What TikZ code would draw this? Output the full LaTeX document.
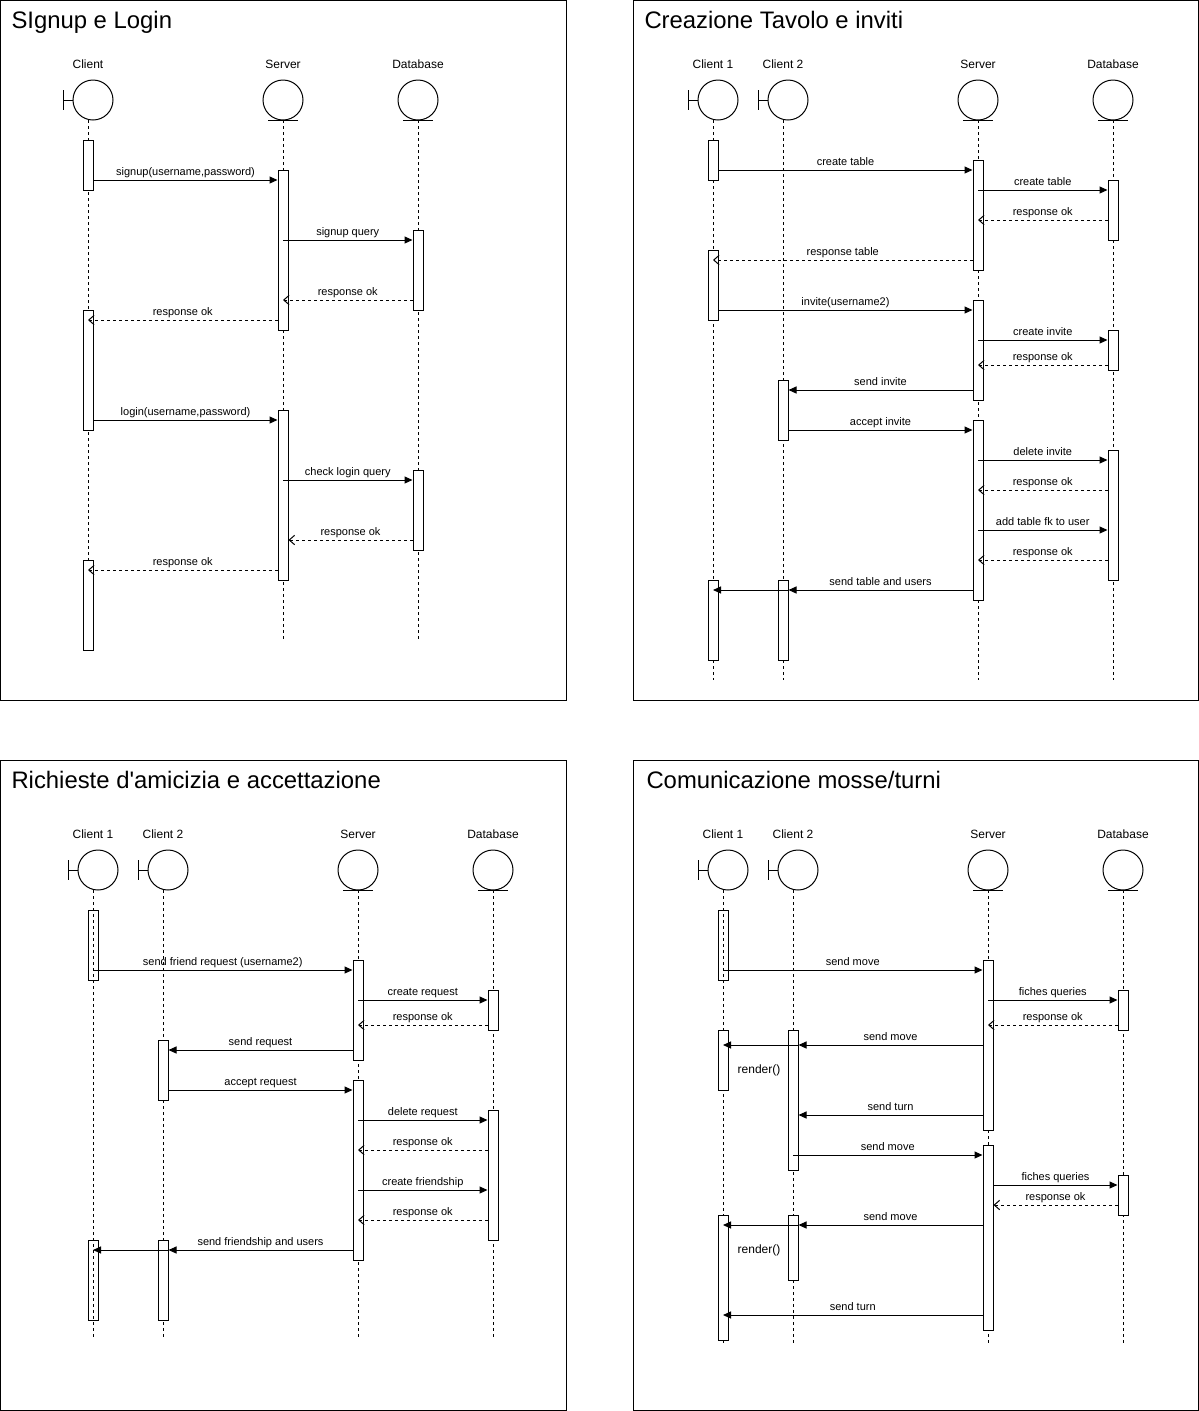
\documentclass[tikz,border=0pt]{standalone}
\usepackage{fontspec}
\setmainfont{Liberation Sans}
\usetikzlibrary{arrows.meta}

% lifeline heads: boundary (bar + circle) and entity (circle + underline)
\newcommand{\bhead}[5]{%
  \node[headc] (#1) at (#2+5,#3) {};
  \draw (#2-25,#3-10) -- (#2-25,#3+10);
  \draw (#2-25,#3) -- (#1.west);
  \node[hlbl] (#1-l) at (#2,#3-36) {#4};
  \coordinate (#1-t) at (#2,#3+20);
  \draw[life] (#1-t) -- (#1-t |- 0,#5);
}
\newcommand{\ehead}[5]{%
  \node[headc] (#1) at (#2,#3) {};
  \draw (#2-15,#3+20) -- (#2+15,#3+20);
  \node[hlbl] (#1-l) at (#2,#3-36) {#4};
  \coordinate (#1-t) at (#2,#3+20);
  \draw[life] (#1-t) -- (#1-t |- 0,#5);
}
% activation bar: name, x, top, bottom, extra style
\newcommand{\actbar}[5]{%
  \node[actbox,#5,minimum height={(#4-#3)*0.75pt}] (#1) at (#2,#3) {};
}
% straight apostrophe
\newcommand{\sq}{{\addfontfeatures{Ligatures=TeXOff}'}}

\begin{document}
\begin{tikzpicture}[x=0.75pt,y=-0.75pt,line width=0.75pt,
  headc/.style={draw,circle,minimum size=30pt,inner sep=0pt},
  hlbl/.style={font=\fontsize{9pt}{10pt}\selectfont,inner sep=0pt},
  life/.style={dash pattern=on 2.25pt off 2.25pt},
  actbox/.style={draw,fill=white,minimum width=7.5pt,inner sep=0pt,anchor=north},
  hollow/.style={fill=none},
  mlbl/.style={font=\fontsize{8.25pt}{9pt}\selectfont,inner sep=0pt,
    text height=0.7em,text depth=0.2em,yshift=6.2pt,anchor=center},
  call/.style={-{Triangle[length=6pt,width=5.25pt]}},
  reply/.style={dash pattern=on 2.25pt off 2.25pt,-{Straight Barb[length=4pt,width=7pt]}},
  frame/.style={draw,line width=0.75pt},
  ttl/.style={font=\fontsize{17.9pt}{20pt}\selectfont,anchor=base west,inner sep=0pt},
  note/.style={font=\fontsize{9pt}{10pt}\selectfont,inner sep=0pt}]

\useasboundingbox (0,0) rectangle (1199,1411);

% ---------------- frames and titles ----------------
\draw[frame] (0.5,0.5) rectangle (566,700);
\draw[frame] (633,0.5) rectangle (1198.5,700);
\draw[frame] (0.5,760) rectangle (566,1410.5);
\draw[frame] (633,760) rectangle (1198.5,1410.5);
\node[ttl] (t1) at (11,28) {SIgnup e Login};
\node[ttl] (t2) at (644,28) {Creazione Tavolo e inviti};
\node[ttl] (t3) at (11,788) {Richieste d\sq amicizia e accettazione};
\node[ttl] (t4) at (646,788) {Comunicazione mosse/turni};

% ---------------- Signup e Login ----------------
\bhead{pa-c}{88}{100}{Client}{640}
\ehead{pa-s}{283}{100}{Server}{640}
\ehead{pa-d}{418}{100}{Database}{640}
\actbar{pa-c1}{88}{140}{190}{}
\actbar{pa-c2}{88}{310}{430}{}
\actbar{pa-c3}{88}{560}{650}{}
\actbar{pa-s1}{283}{170}{330}{}
\actbar{pa-s2}{283}{410}{580}{}
\actbar{pa-d1}{418}{230}{310}{}
\actbar{pa-d2}{418}{470}{550}{}
\draw[call] (pa-c1.east |- 0,180) -- node[mlbl]{signup(username,password)} (pa-s1.west |- 0,180);
\draw[call] (pa-s-t |- 0,240) -- node[mlbl]{signup query} (pa-d1.west |- 0,240);
\draw[reply] (pa-d1.west |- 0,300) -- node[mlbl]{response ok} (pa-s-t |- 0,300);
\draw[reply] (pa-s1.west |- 0,320) -- node[mlbl]{response ok} (pa-c-t |- 0,320);
\draw[call] (pa-c2.east |- 0,420) -- node[mlbl]{login(username,password)} (pa-s2.west |- 0,420);
\draw[call] (pa-s-t |- 0,480) -- node[mlbl]{check login query} (pa-d2.west |- 0,480);
\draw[reply] (pa-d2.west |- 0,540) -- node[mlbl]{response ok} (pa-s2.east |- 0,540);
\draw[reply] (pa-s2.west |- 0,570) -- node[mlbl]{response ok} (pa-c-t |- 0,570);

% ---------------- Creazione Tavolo e inviti ----------------
\bhead{pb-c1}{713}{100}{Client 1}{680}
\bhead{pb-c2}{783}{100}{Client 2}{680}
\ehead{pb-s}{978}{100}{Server}{680}
\ehead{pb-d}{1113}{100}{Database}{680}
\actbar{pb-c1a}{713}{140}{180}{}
\actbar{pb-c1b}{713}{250}{320}{}
\actbar{pb-c1c}{713}{580}{660}{}
\actbar{pb-c2a}{783}{380}{440}{}
\actbar{pb-c2b}{783}{580}{660}{}
\actbar{pb-sa}{978}{160}{270}{}
\actbar{pb-sb}{978}{300}{400}{}
\actbar{pb-sc}{978}{420}{600}{}
\actbar{pb-da}{1113}{180}{240}{}
\actbar{pb-db}{1113}{330}{370}{}
\actbar{pb-dc}{1113}{450}{580}{}
\draw[call] (pb-c1a.east |- 0,170) -- node[mlbl]{create table} (pb-sa.west |- 0,170);
\draw[call] (pb-s-t |- 0,190) -- node[mlbl]{create table} (pb-da.west |- 0,190);
\draw[reply] (pb-da.west |- 0,220) -- node[mlbl]{response ok} (pb-s-t |- 0,220);
\draw[reply] (pb-sa.west |- 0,260) -- node[mlbl]{response table} (pb-c1-t |- 0,260);
\draw[call] (pb-c1b.east |- 0,310) -- node[mlbl]{invite(username2)} (pb-sb.west |- 0,310);
\draw[call] (pb-s-t |- 0,340) -- node[mlbl]{create invite} (pb-db.west |- 0,340);
\draw[reply] (pb-db.west |- 0,365) -- node[mlbl]{response ok} (pb-s-t |- 0,365);
\draw[call] (pb-sb.west |- 0,390) -- node[mlbl]{send invite} (pb-c2a.east |- 0,390);
\draw[call] (pb-c2a.east |- 0,430) -- node[mlbl]{accept invite} (pb-sc.west |- 0,430);
\draw[call] (pb-s-t |- 0,460) -- node[mlbl]{delete invite} (pb-dc.west |- 0,460);
\draw[reply] (pb-dc.west |- 0,490) -- node[mlbl]{response ok} (pb-s-t |- 0,490);
\draw[call] (pb-s-t |- 0,530) -- node[mlbl]{add table fk to user} (pb-dc.west |- 0,530);
\draw[reply] (pb-dc.west |- 0,560) -- node[mlbl]{response ok} (pb-s-t |- 0,560);
\draw[call] (pb-sc.west |- 0,590) -- node[mlbl]{send table and users} (pb-c2b.east |- 0,590);
\draw[call] (pb-c2b.east |- 0,590) -- (pb-c1-t |- 0,590);

% ---------------- Richieste d'amicizia e accettazione ----------------
\bhead{pc-c1}{93}{870}{Client 1}{1338}
\bhead{pc-c2}{163}{870}{Client 2}{1338}
\ehead{pc-s}{358}{870}{Server}{1338}
\ehead{pc-d}{493}{870}{Database}{1338}
\actbar{pc-c1a}{93}{910}{980}{hollow}
\actbar{pc-c1b}{93}{1240}{1320}{hollow}
\actbar{pc-c2a}{163}{1040}{1100}{}
\actbar{pc-c2b}{163}{1240}{1320}{}
\actbar{pc-sa}{358}{960}{1060}{}
\actbar{pc-sb}{358}{1080}{1260}{}
\actbar{pc-da}{493}{990}{1030}{}
\actbar{pc-db}{493}{1110}{1240}{}
\draw[call] (pc-c1-t |- 0,970) -- node[mlbl]{send friend request (username2)} (pc-sa.west |- 0,970);
\draw[call] (pc-s-t |- 0,1000) -- node[mlbl]{create request} (pc-da.west |- 0,1000);
\draw[reply] (pc-da.west |- 0,1025) -- node[mlbl]{response ok} (pc-s-t |- 0,1025);
\draw[call] (pc-sa.west |- 0,1050) -- node[mlbl]{send request} (pc-c2a.east |- 0,1050);
\draw[call] (pc-c2a.east |- 0,1090) -- node[mlbl]{accept request} (pc-sb.west |- 0,1090);
\draw[call] (pc-s-t |- 0,1120) -- node[mlbl]{delete request} (pc-db.west |- 0,1120);
\draw[reply] (pc-db.west |- 0,1150) -- node[mlbl]{response ok} (pc-s-t |- 0,1150);
\draw[call] (pc-s-t |- 0,1190) -- node[mlbl]{create friendship} (pc-db.west |- 0,1190);
\draw[reply] (pc-db.west |- 0,1220) -- node[mlbl]{response ok} (pc-s-t |- 0,1220);
\draw[call] (pc-sb.west |- 0,1250) -- node[mlbl]{send friendship and users} (pc-c2b.east |- 0,1250);
\draw[call] (pc-c2b.east |- 0,1250) -- (pc-c1-t |- 0,1250);

% ---------------- Comunicazione mosse/turni ----------------
\bhead{pd-c1}{723}{870}{Client 1}{1345}
\bhead{pd-c2}{793}{870}{Client 2}{1345}
\ehead{pd-s}{988}{870}{Server}{1345}
\ehead{pd-d}{1123}{870}{Database}{1345}
\actbar{pd-c1a}{723}{910}{980}{hollow}
\actbar{pd-c1b}{723}{1030}{1090}{}
\actbar{pd-c1c}{723}{1215}{1340}{}
\actbar{pd-c2a}{793}{1030}{1170}{}
\actbar{pd-c2b}{793}{1215}{1280}{}
\actbar{pd-sa}{988}{960}{1130}{}
\actbar{pd-sb}{988}{1145}{1330}{}
\actbar{pd-da}{1123}{990}{1030}{}
\actbar{pd-db}{1123}{1175}{1215}{}
\draw[call] (pd-c1-t |- 0,970) -- node[mlbl]{send move} (pd-sa.west |- 0,970);
\draw[call] (pd-s-t |- 0,1000) -- node[mlbl]{fiches queries} (pd-da.west |- 0,1000);
\draw[reply] (pd-da.west |- 0,1025) -- node[mlbl]{response ok} (pd-s-t |- 0,1025);
\draw[call] (pd-sa.west |- 0,1045) -- node[mlbl]{send move} (pd-c2a.east |- 0,1045);
\draw[call] (pd-c2a.east |- 0,1045) -- (pd-c1-t |- 0,1045);
\node[note] (r1) at (759,1070) {render()};
\draw[call] (pd-sa.west |- 0,1115) -- node[mlbl]{send turn} (pd-c2a.east |- 0,1115);
\draw[call] (pd-c2-t |- 0,1155) -- node[mlbl]{send move} (pd-sb.west |- 0,1155);
\draw[call] (pd-sb.east |- 0,1185) -- node[mlbl]{fiches queries} (pd-db.west |- 0,1185);
\draw[reply] (pd-db.west |- 0,1205) -- node[mlbl]{response ok} (pd-sb.east |- 0,1205);
\draw[call] (pd-sb.west |- 0,1225) -- node[mlbl]{send move} (pd-c2b.east |- 0,1225);
\draw[call] (pd-c2b.east |- 0,1225) -- (pd-c1-t |- 0,1225);
\node[note] (r2) at (759,1250) {render()};
\draw[call] (pd-sb.west |- 0,1315) -- node[mlbl]{send turn} (pd-c1-t |- 0,1315);

\end{tikzpicture}
\end{document}
